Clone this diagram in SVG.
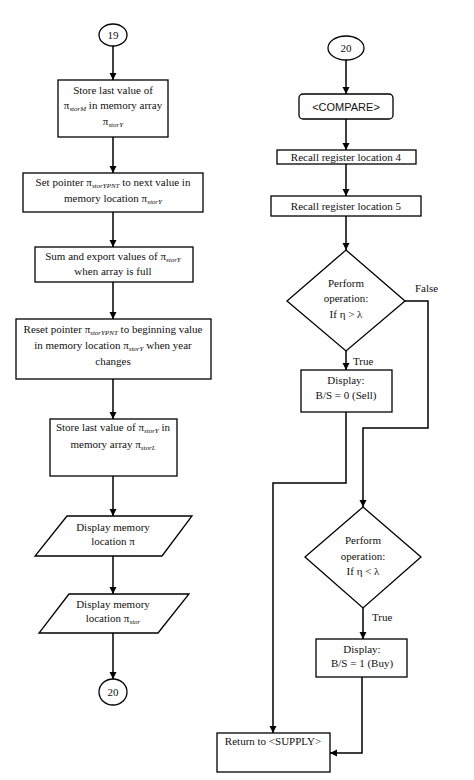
<svg xmlns="http://www.w3.org/2000/svg" width="474" height="780" viewBox="0 0 474 780">
<defs>
<marker id="ah" markerWidth="8" markerHeight="8" refX="7" refY="3.5" orient="auto" markerUnits="userSpaceOnUse"><path d="M0,0 L7,3.5 L0,7 z" fill="#000"/></marker>
<style>
.s{fill:#fff;stroke:#000;stroke-width:1.3}
.c{fill:none;stroke:#000;stroke-width:1.5;marker-end:url(#ah)}
.l{fill:none;stroke:#000;stroke-width:1.5}
text{font-family:"Liberation Serif","Times New Roman",serif;font-size:11px;fill:#111;text-anchor:middle}
.sans{font-family:"Liberation Sans",Arial,sans-serif}
.sub{font-size:7px;font-style:italic}
.lab{text-anchor:start}
</style>
</defs>
<rect width="474" height="780" fill="#fff"/>
<g id="connectors">
<path class="c" d="M113,46 V80"/>
<path class="c" d="M113,137 V173"/>
<path class="c" d="M113,212 V247"/>
<path class="c" d="M113,282 V319"/>
<path class="c" d="M113,379 V419"/>
<path class="c" d="M113,476 V516"/>
<path class="c" d="M113,556 V594"/>
<path class="c" d="M113,633 V679"/>
<path class="c" d="M346,60 V94"/>
<path class="c" d="M346,119 V150"/>
<path class="c" d="M346,164 V196"/>
<path class="c" d="M346,216 V250"/>
<path class="c" d="M346,351 V370"/>
<path class="c" d="M405,301 H428 V428 H363 V507"/>
<path class="c" d="M346,412 V483 H273 V733"/>
<path class="c" d="M363,608 V639"/>
<path class="c" d="M362,677 V753 H330"/>
<text class="lab" x="415" y="292">False</text>
<text class="lab" x="353" y="365">True</text>
<text class="lab" x="372" y="621">True</text>
</g>
<g id="c19"><ellipse class="s" cx="113" cy="35" rx="14" ry="11"/><text x="113" y="39">19</text></g>
<g id="box1"><rect class="s" x="58" y="80" width="110" height="57"/>
<text x="113" y="94">Store last value of</text>
<text x="113" y="109">π<tspan class="sub" dy="2">storM</tspan><tspan dy="-2">  in memory array</tspan></text>
<text x="113" y="125">π<tspan class="sub" dy="2">storY</tspan></text></g>
<g id="box2"><rect class="s" x="23" y="173" width="180" height="39"/>
<text x="113" y="186">Set pointer π<tspan class="sub" dy="2">storYPNT</tspan><tspan dy="-2"> to next value in</tspan></text>
<text x="113" y="202">memory location π<tspan class="sub" dy="2">storY</tspan></text></g>
<g id="box3"><rect class="s" x="35" y="247" width="158" height="35"/>
<text x="113" y="260">Sum and export values of π<tspan class="sub" dy="2">storY</tspan></text>
<text x="113" y="275">when array is full</text></g>
<g id="box4"><rect class="s" x="16" y="319" width="195" height="60"/>
<text x="113" y="333">Reset pointer π<tspan class="sub" dy="2">storYPNT</tspan><tspan dy="-2"> to beginning value</tspan></text>
<text x="113" y="349">in memory location π<tspan class="sub" dy="2">storY</tspan><tspan dy="-2"> when year</tspan></text>
<text x="113" y="365">changes</text></g>
<g id="box5"><rect class="s" x="50" y="419" width="127" height="57"/>
<text x="113" y="431">Store last value of π<tspan class="sub" dy="2">storY</tspan><tspan dy="-2"> in</tspan></text>
<text x="113" y="448">memory array π<tspan class="sub" dy="2">storL</tspan></text></g>
<g id="para1"><polygon class="s" points="67,516 192,516 162,556 35,556"/>
<text x="113" y="531">Display memory</text>
<text x="113" y="545">location π</text></g>
<g id="para2"><polygon class="s" points="69,594 189,594 158,633 39,633"/>
<text x="113" y="608">Display memory</text>
<text x="113" y="622">location π<tspan class="sub" dy="2">stor</tspan></text></g>
<g id="c20a"><ellipse class="s" cx="113" cy="692" rx="14" ry="13"/><text x="113" y="696">20</text></g>
<g id="c20b"><ellipse class="s" cx="346" cy="48" rx="18" ry="12"/><text x="346" y="52">20</text></g>
<g id="compare"><rect class="s" x="299" y="94" width="94" height="25" rx="4"/><text class="sans" x="346" y="111">&lt;COMPARE&gt;</text></g>
<g id="recall4"><rect class="s" x="277" y="150" width="139" height="14"/><text x="346" y="161">Recall register location 4</text></g>
<g id="recall5"><rect class="s" x="271" y="196" width="150" height="20"/><text x="346" y="210">Recall register location 5</text></g>
<g id="dec1"><polygon class="s" points="346,250 405,301 346,351 287,301"/>
<text x="346" y="287">Perform</text>
<text x="346" y="302">operation:</text>
<text x="346" y="318">If η &gt; λ</text></g>
<g id="sell"><rect class="s" x="301" y="370" width="91" height="42"/>
<text x="346" y="384">Display:</text>
<text x="346" y="399">B/S = 0 (Sell)</text></g>
<g id="dec2"><polygon class="s" points="363,507 421,557 363,608 305,557"/>
<text x="363" y="544">Perform</text>
<text x="363" y="560">operation:</text>
<text x="363" y="575">If η &lt; λ</text></g>
<g id="buy"><rect class="s" x="316" y="639" width="91" height="38"/>
<text x="362" y="653">Display:</text>
<text x="362" y="667">B/S = 1 (Buy)</text></g>
<g id="ret"><rect class="s" x="217" y="733" width="113" height="39"/>
<text x="273" y="745">Return to &lt;SUPPLY&gt;</text></g>
</svg>
